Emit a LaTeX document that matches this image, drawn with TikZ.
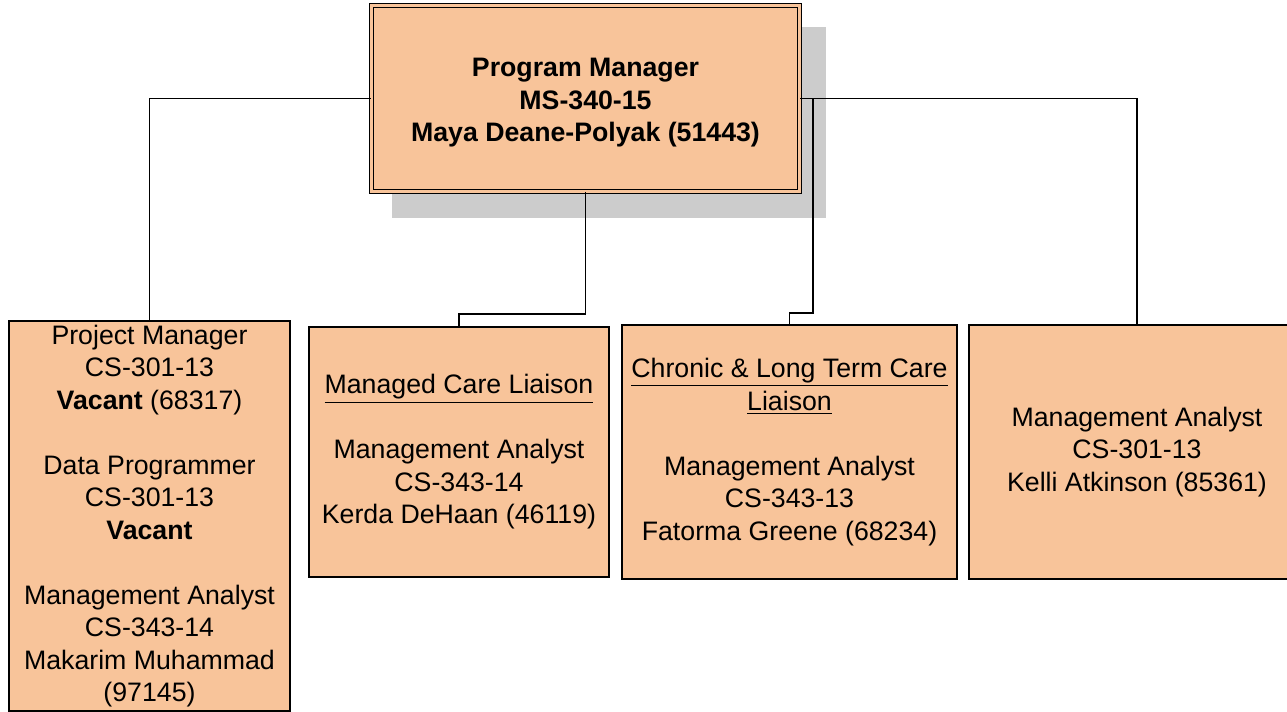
\documentclass[tikz,border=0pt]{standalone}
\usepackage{fontspec}
\setmainfont{Liberation Sans}
\definecolor{boxfill}{HTML}{F8C49A}
\begin{document}
\begin{tikzpicture}[x=0.02cm,y=-0.02cm,
  post/.style={draw,line width=0.9pt,fill=boxfill,align=center,inner sep=0pt,
    font=\fontsize{15.2}{18.5}\selectfont},
  link/.style={line width=0.8pt}]
\useasboundingbox (0,0) rectangle (1287,712);
\clip (0,0) rectangle (1287,712);
\fill[color=gray!40] (392,27) rectangle (826,218);

\node[post,double=boxfill,double distance=1.5pt,line width=0.8pt,
  minimum width=8.56cm,minimum height=3.72cm] (pm) at (585.5,98.5) {};
\node[align=center,inner sep=0pt,font=\fontsize{15.2}{18.5}\selectfont\bfseries] (pmtext) at (585.5,103)
  {Program Manager\\MS-340-15\\Maya Deane-Polyak (51443)};

\node[post,minimum width=5.62cm,minimum height=7.8cm] (proj) at (149.5,516)
  {Project Manager\\CS-301-13\\\textbf{Vacant} (68317)\\[18.5pt]Data Programmer\\CS-301-13\\\textbf{Vacant}\\[18.5pt]Management Analyst\\CS-343-14\\Makarim Muhammad\\(97145)};
\node[post,minimum width=6cm,minimum height=5cm] (mcl) at (459,452)
  {\underline{Managed Care Liaison}\\[18.5pt]Management Analyst\\CS-343-14\\Kerda DeHaan (46119)};
\node[post,minimum width=6.7cm,minimum height=5.08cm] (chr) at (789.5,452)
  {\underline{Chronic \& Long Term Care}\\\underline{Liaison}\\[18.5pt]Management Analyst\\CS-343-13\\Fatorma Greene (68234)};
\node[post,minimum width=6.72cm,minimum height=5.08cm] (ma) at (1137,452)
  {Management Analyst\\CS-301-13\\Kelli Atkinson (85361)};

\coordinate (mclbend) at (459,314);
\coordinate (chrtop) at (813,99);
\coordinate (chrbend) at (789.5,313);

\draw[link] (pm.west) -| (proj.north);
\draw[link] (pm.south) |- (mclbend) -- (mcl.north);
\draw[link] (pm.east) -| (ma.north);
\draw[link] (chrtop) |- (chrbend) -- (chr.north);
\end{tikzpicture}
\end{document}
